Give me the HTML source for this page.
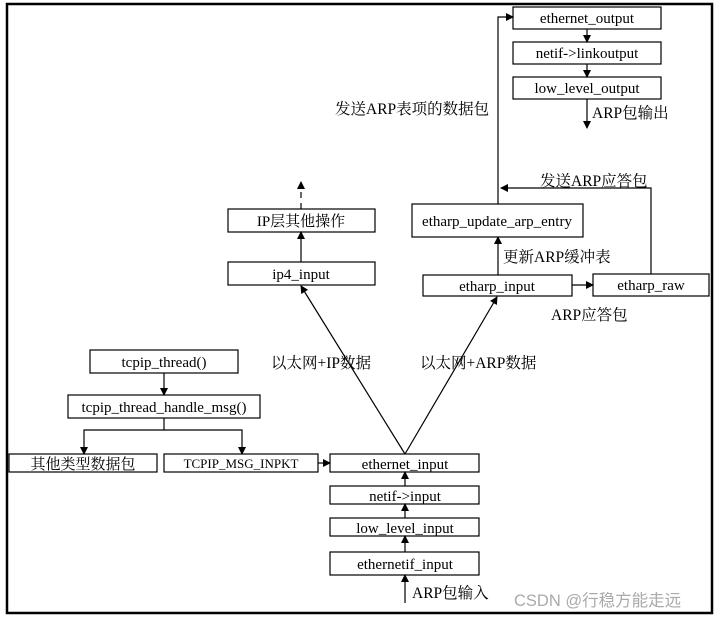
<!DOCTYPE html>
<html><head><meta charset="utf-8"><style>
html,body{margin:0;padding:0;background:#fff;width:721px;height:619px;overflow:hidden}
text{font-family:"Liberation Serif","Noto Serif CJK SC",serif;font-size:15px;fill:#000}
.c{font-size:15.5px}
</style></head><body>
<svg width="721" height="619" viewBox="0 0 721 619" xmlns="http://www.w3.org/2000/svg">
<defs><marker id="a" markerWidth="8" markerHeight="8" refX="7" refY="4" orient="auto" markerUnits="userSpaceOnUse"><path d="M0,0 L8,4 L0,8 z" fill="#000"/></marker></defs>
<rect x="7" y="4" width="705" height="609" fill="none" stroke="#000" stroke-width="2.5"/>
<g fill="#fff" stroke="#000" stroke-width="1.2">
<rect x="513" y="7" width="148" height="22"/>
<rect x="513" y="42" width="148" height="22"/>
<rect x="513" y="77" width="148" height="22"/>
<rect x="412" y="204" width="171" height="33"/>
<rect x="423" y="275" width="149" height="21"/>
<rect x="593" y="274" width="116" height="22"/>
<rect x="228" y="209" width="147" height="23"/>
<rect x="228" y="262" width="147" height="23"/>
<rect x="90" y="350" width="148" height="23"/>
<rect x="68" y="395" width="192" height="23"/>
<rect x="9" y="454" width="148" height="18"/>
<rect x="164" y="454" width="154" height="18"/>
<rect x="330" y="454" width="149" height="18"/>
<rect x="330" y="486" width="149" height="18"/>
<rect x="330" y="518" width="149" height="18"/>
<rect x="330" y="552" width="149" height="23"/>
</g>
<g stroke="#000" stroke-width="1.2" fill="none" marker-end="url(#a)">
<line x1="587" y1="29" x2="587" y2="42"/>
<line x1="587" y1="64" x2="587" y2="77"/>
<line x1="587" y1="99" x2="587" y2="128"/>
<polyline points="498,204 498,17 513,17"/>
<polyline points="651,274 651,188 501,188"/>
<line x1="572" y1="285" x2="593" y2="285"/>
<line x1="498" y1="275" x2="498" y2="237"/>
<line x1="405" y1="454" x2="301" y2="286"/>
<line x1="405" y1="454" x2="497" y2="297"/>
<line x1="301" y1="262" x2="301" y2="232"/>
<line x1="301" y1="209" x2="301" y2="182" stroke-dasharray="6,5"/>
<line x1="164" y1="373" x2="164" y2="395"/>
<polyline points="164,418 164,430 84,430 84,454" />
<polyline points="164,430 242,430 242,454"/>
<line x1="318" y1="463" x2="330" y2="463"/>
<line x1="405" y1="486" x2="405" y2="472"/>
<line x1="405" y1="518" x2="405" y2="504"/>
<line x1="405" y1="552" x2="405" y2="536"/>
<line x1="405" y1="603" x2="405" y2="575"/>
</g>
<g text-anchor="middle">
<text x="587" y="23">ethernet_output</text>
<text x="587" y="58">netif-&gt;linkoutput</text>
<text x="587" y="93">low_level_output</text>
<text x="497" y="226">etharp_update_arp_entry</text>
<text x="497" y="291">etharp_input</text>
<text x="651" y="290">etharp_raw</text>
<text x="301" y="226">IP层其他操作</text>
<text x="301" y="279">ip4_input</text>
<text x="164" y="367">tcpip_thread()</text>
<text x="164" y="412">tcpip_thread_handle_msg()</text>
<text x="83" y="469">其他类型数据包</text>
<text x="241" y="468" style="font-size:13px">TCPIP_MSG_INPKT</text>
<text x="405" y="469">ethernet_input</text>
<text x="405" y="501">netif-&gt;input</text>
<text x="405" y="533">low_level_input</text>
<text x="405" y="569">ethernetif_input</text>
</g>
<text class="c" x="335" y="114">发送ARP表项的数据包</text>
<text class="c" x="592" y="118">ARP包输出</text>
<text class="c" x="540" y="186">发送ARP应答包</text>
<text class="c" x="503" y="262">更新ARP缓冲表</text>
<text class="c" x="551" y="320">ARP应答包</text>
<text class="c" x="271" y="368">以太网+IP数据</text>
<text class="c" x="420" y="368">以太网+ARP数据</text>
<text class="c" x="412" y="598">ARP包输入</text>
<text x="514" y="606" style="font-family:'Liberation Sans','Noto Sans CJK SC',sans-serif;fill:#aaa;font-size:16.5px">CSDN @行稳方能走远</text>
</svg>
</body></html>
